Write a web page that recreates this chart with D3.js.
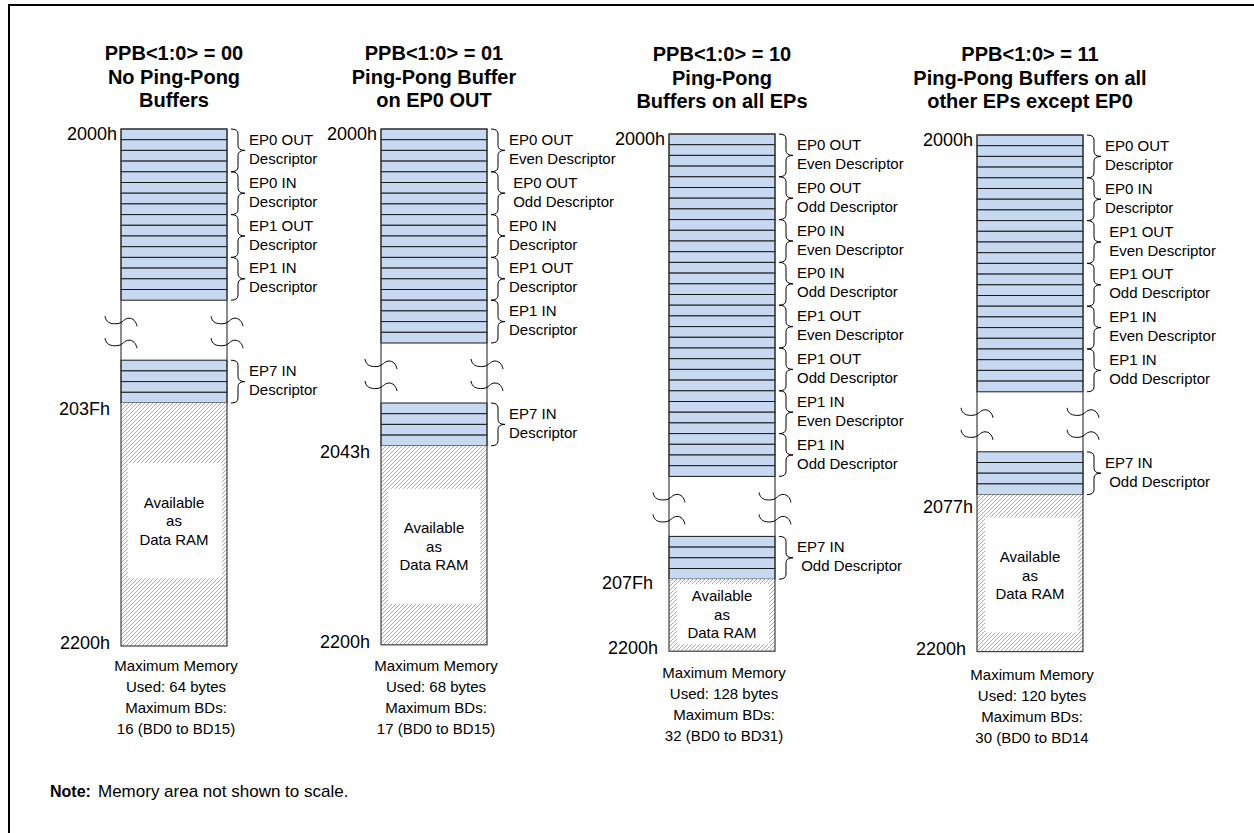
<!DOCTYPE html>
<html>
<head>
<meta charset="utf-8">
<script src="https://cdn.jsdelivr.net/npm/d3@7"></script>
<style>
  body { margin: 0; background: #fff; }
  svg { display: block; }
  text { font-family: "Liberation Sans", Arial, sans-serif; white-space: pre; fill: #000; }
</style>
</head>
<body>
<div id="chart"></div>
<script>
// ---- data ----
const modes = ["00", "01", "10", "11"];
const titles = [
  ["PPB<1:0> = 00", "No Ping-Pong", "Buffers"],
  ["PPB<1:0> = 01", "Ping-Pong Buffer", "on EP0 OUT"],
  ["PPB<1:0> = 10", "Ping-Pong", "Buffers on all EPs"],
  ["PPB<1:0> = 11", "Ping-Pong Buffers on all", "other EPs except EP0"]
];
const descriptors = [
  [["EP0 OUT", "Descriptor"], ["EP0 IN", "Descriptor"], ["EP1 OUT", "Descriptor"], ["EP1 IN", "Descriptor"]],
  [["EP0 OUT", "Even Descriptor"], [" EP0 OUT", " Odd Descriptor"], ["EP0 IN", "Descriptor"],
   ["EP1 OUT", "Descriptor"], ["EP1 IN", "Descriptor"]],
  [["EP0 OUT", "Even Descriptor"], ["EP0 OUT", "Odd Descriptor"], ["EP0 IN", "Even Descriptor"],
   ["EP0 IN", "Odd Descriptor"], ["EP1 OUT", "Even Descriptor"], ["EP1 OUT", "Odd Descriptor"],
   ["EP1 IN", "Even Descriptor"], ["EP1 IN", "Odd Descriptor"]],
  [["EP0 OUT", "Descriptor"], ["EP0 IN", "Descriptor"], [" EP1 OUT", " Even Descriptor"],
   [" EP1 OUT", " Odd Descriptor"], [" EP1 IN", " Even Descriptor"], [" EP1 IN", " Odd Descriptor"]]
];
const lastDescriptor = [
  ["EP7 IN", "Descriptor"], ["EP7 IN", "Descriptor"],
  ["EP7 IN", " Odd Descriptor"], ["EP7 IN", " Odd Descriptor"]
];
const bytesPerBD = 4;            // one row per byte, 4 rows per descriptor
const startAddr = ["2000h", "2000h", "2000h", "2000h"];
const endAddr = ["203Fh", "2043h", "207Fh", "2077h"];
const lastAddr = ["2200h", "2200h", "2200h", "2200h"];
const memoryUsed = [64, 68, 128, 120];
const maxBDs = ["16 (BD0 to BD15)", "17 (BD0 to BD15)", "32 (BD0 to BD31)", "30 (BD0 to BD14"];
const ramText = ["Available", "as", "Data RAM"];

// ---- layout (diagram is not to scale) ----
const W = 1254, H = 833;
const layout = [
  { left: 121, top: 129, free: 243, ram: [7, 60, 5, 68], endDy: 12, endDx: -11, titleY: 60, sumY: 671 },
  { left: 381, top: 129, free: 199, ram: [7, 43, 7, 41], endDy: 12, endDx: -11, titleY: 60, sumY: 671 },
  { left: 669, top: 134, free: 72,  ram: [8, 5, 6, 7],   endDy: 10, endDx: -16, titleY: 61, sumY: 678 },
  { left: 977, top: 135, free: 157, ram: [8, 23, 5, 19], endDy: 18, endDx: -4,  titleY: 61, sumY: 680 }
];
const boxW = 106;
const rowY = d3.scaleLinear().domain([0, 1]).range([0, 10.7]);
const gapH = 60;

const svg = d3.select("#chart").append("svg")
  .attr("width", W).attr("height", H);

const defs = svg.append("defs");
const pat = defs.append("pattern")
  .attr("id", "hatch")
  .attr("patternUnits", "userSpaceOnUse")
  .attr("width", 4).attr("height", 4);
pat.append("rect").attr("width", 4).attr("height", 4).attr("fill", "#fff");
pat.append("path")
  .attr("d", "M-1,1 l2,-2 M0,4 l4,-4 M3,5 l2,-2")
  .attr("stroke", "#8a8a8a").attr("stroke-width", 0.7);

// outer frame (only top/left edges fall inside the picture)
svg.append("rect")
  .attr("x", 9).attr("y", 5)
  .attr("width", W + 20).attr("height", H + 20)
  .attr("fill", "none").attr("stroke", "#000").attr("stroke-width", 2);

function bracePath(x, y0, y1) {
  const w = 14, mid = (y0 + y1) / 2, r = 5, sx = x + w / 2;
  return `M${x},${y0} Q${sx},${y0} ${sx},${y0 + r} L${sx},${mid - r} Q${sx},${mid} ${x + w},${mid}` +
         ` Q${sx},${mid} ${sx},${mid + r} L${sx},${y1 - r} Q${sx},${y1} ${x},${y1}`;
}

function breakPath(ex, y) {
  return `M${ex - 16},${y - 5} C${ex - 15},${y + 1} ${ex - 11},${y + 3} ${ex - 4},${y + 2.5}` +
         ` C${ex + 2},${y + 2} ${ex + 3},${y - 3} ${ex + 8},${y - 3} C${ex + 12},${y - 3} ${ex + 15},${y} ${ex + 16},${y + 5}`;
}

modes.forEach((m, i) => {
  const L = layout[i];
  const g = svg.append("g");
  const x0 = L.left, x1 = L.left + boxW, cx = (x0 + x1) / 2;
  const groups = descriptors[i];
  const nRows = groups.length * bytesPerBD;
  const mainBottom = L.top + rowY(nRows);
  const epTop = mainBottom + gapH;
  const epBottom = epTop + rowY(bytesPerBD);
  const bottom = epBottom + L.free;

  // title
  g.append("text")
    .attr("x", cx).attr("text-anchor", "middle")
    .attr("font-size", 20).attr("font-weight", "bold")
    .selectAll("tspan").data(titles[i]).join("tspan")
    .attr("x", cx).attr("y", (d, k) => L.titleY + k * 23.5)
    .text(d => d);

  // descriptor rows (main block + EP7 block)
  const rows = d3.range(nRows).map(r => L.top + rowY(r))
    .concat(d3.range(bytesPerBD).map(r => epTop + rowY(r)));
  g.selectAll("rect.row").data(rows).join("rect")
    .attr("class", "row")
    .attr("x", x0).attr("y", d => d)
    .attr("width", boxW).attr("height", rowY(1))
    .attr("fill", "#c6d9f0").attr("stroke", "#1a1a1a").attr("stroke-width", 1);

  // free RAM (hatched) and the inner white label area
  g.append("rect")
    .attr("x", x0).attr("y", epBottom).attr("width", boxW).attr("height", L.free)
    .attr("fill", "url(#hatch)");
  const [rl, rt, rr, rb] = L.ram;
  g.append("rect")
    .attr("x", x0 + rl).attr("y", epBottom + rt)
    .attr("width", boxW - rl - rr).attr("height", L.free - rt - rb)
    .attr("fill", "#fff");
  const ramMid = epBottom + rt + (L.free - rt - rb) / 2;
  g.append("text")
    .attr("text-anchor", "middle").attr("font-size", 15)
    .selectAll("tspan").data(ramText).join("tspan")
    .attr("x", cx).attr("y", (d, k) => ramMid - 13 + k * 18.5)
    .text(d => d);

  // column outline
  g.append("rect")
    .attr("x", x0).attr("y", L.top).attr("width", boxW).attr("height", bottom - L.top)
    .attr("fill", "none").attr("stroke", "#404040").attr("stroke-width", 1.2);

  // break marks in the gap
  [21, 43].forEach(dy => {
    [x0, x1].forEach(ex => {
      g.append("path").attr("d", breakPath(ex, mainBottom + dy))
        .attr("fill", "none").attr("stroke", "#000").attr("stroke-width", 1);
    });
  });

  // braces + labels
  const braceGroups = groups.map((lab, k) => ({
    y0: L.top + rowY(k * bytesPerBD), y1: L.top + rowY((k + 1) * bytesPerBD), lab
  })).concat([{ y0: epTop, y1: epBottom, lab: lastDescriptor[i] }]);
  braceGroups.forEach(b => {
    g.append("path").attr("d", bracePath(x1 + 4, b.y0, b.y1))
      .attr("fill", "none").attr("stroke", "#000").attr("stroke-width", 1);
    const mid = (b.y0 + b.y1) / 2;
    g.append("text").attr("font-size", 15)
      .selectAll("tspan").data(b.lab).join("tspan")
      .attr("x", x1 + 22).attr("y", (d, k) => k === 0 ? mid - 5.5 : mid + 13.5)
      .text(d => d);
  });

  // addresses
  const addr = g.append("g").attr("font-size", 18).attr("text-anchor", "end");
  addr.append("text").attr("x", x0 - 4).attr("y", L.top + 11).text(startAddr[i]);
  addr.append("text").attr("x", x0 + L.endDx).attr("y", epBottom + L.endDy).text(endAddr[i]);
  addr.append("text").attr("x", x0 - 11).attr("y", bottom + 3).text(lastAddr[i]);

  // summary
  const summary = ["Maximum Memory", `Used: ${memoryUsed[i]} bytes`, "Maximum BDs:", maxBDs[i]];
  g.append("text").attr("text-anchor", "middle").attr("font-size", 15)
    .selectAll("tspan").data(summary).join("tspan")
    .attr("x", cx + 2).attr("y", (d, k) => L.sumY + k * 21)
    .text(d => d);
});

// note
const note = svg.append("text").attr("x", 50).attr("y", 797).attr("font-size", 16);
note.append("tspan").attr("font-weight", "bold").text("Note:");
note.append("tspan").attr("x", 98).attr("font-size", 17).text("Memory area not shown to scale.");
</script>
</body>
</html>
